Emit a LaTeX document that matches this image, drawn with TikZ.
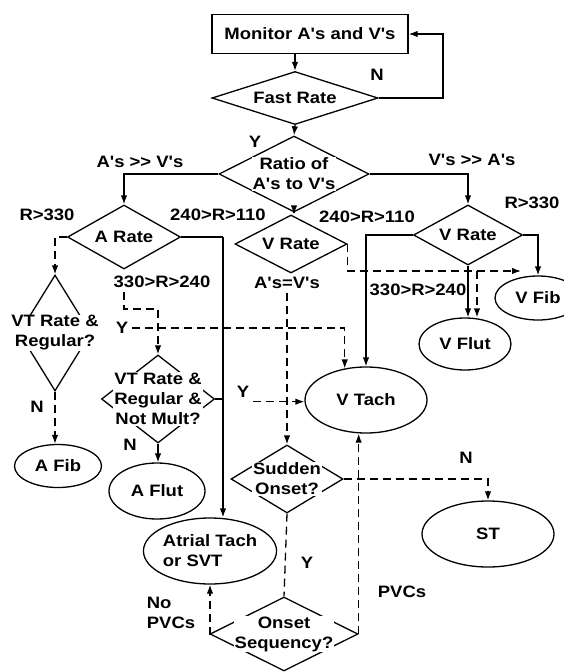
\documentclass[tikz,border=0pt]{standalone}
\usepackage{fontspec}
\newfontfamily\chartfont{Liberation Sans}[FakeStretch=1.12]
\usetikzlibrary{shapes.geometric,arrows.meta}
\begin{document}
\begin{tikzpicture}[x=1pt,y=-1pt,line width=1.3pt,font=\chartfont\bfseries\fontsize{16.5}{20}\selectfont]
\tikzstyle{box}=[draw,rectangle,minimum width=196pt,minimum height=39pt]
\tikzstyle{dia}=[draw,shape=diamond,inner sep=0pt]
\tikzstyle{oval}=[draw,shape=ellipse,inner sep=0pt,align=center]
\tikzstyle{txt}=[fill=white,inner sep=1pt,align=center]
\tikzstyle{arr}=[-{Latex[length=9pt,width=6.5pt]}]
\tikzstyle{dsh}=[dash pattern=on 8pt off 5pt]
\useasboundingbox (0,0) rectangle (563,672);

\node[box] at (310,34) (mon) {Monitor A's and V's};
\node[dia,minimum width=166pt,minimum height=53pt,label={[txt]center:Fast Rate}] at (295,98) (fast) {};
\node[dia,minimum width=150pt,minimum height=76pt,label={[txt]center:{Ratio of\\A's to V's}}] at (294,174) (ratio) {};
\node[dia,minimum width=113pt,minimum height=64pt,label={[txt]center:A Rate}] at (124,237) (arate) {};
\node[dia,minimum width=112pt,minimum height=58pt,label={[txt]center:V Rate}] at (291,244) (vratem) {};
\node[dia,minimum width=109pt,minimum height=60pt,label={[txt]center:V Rate}] at (468,235) (vrater) {};
\node[dia,minimum width=72pt,minimum height=116pt,label={[txt]center:{VT Rate \&\\Regular?}}] at (55,333) (vtr) {};
\node[dia,minimum width=113pt,minimum height=88pt,label={[txt]center:{VT Rate \&\\Regular \&\\Not Mult?}}] at (158,399) (vtm) {};
\node[dia,minimum width=112pt,minimum height=68pt,label={[txt]center:{Sudden\\Onset?}}] at (287,479) (sudden) {};
\node[dia,minimum width=148pt,minimum height=74pt,label={[txt]center:{Onset\\Sequency?}}] at (284,634) (osq) {};

\node[oval,minimum width=87pt,minimum height=43pt] at (58,466) (afib) {A Fib};
\node[oval,minimum width=96pt,minimum height=56pt] at (157,491) (aflut) {A Flut};
\node[oval,align=left,minimum width=130pt,minimum height=66pt] at (210,551) (atrial) {Atrial Tach\\or SVT};
\node[oval,minimum width=122pt,minimum height=66pt] at (366,400) (vtach) {V Tach};
\node[oval,minimum width=92pt,minimum height=52pt] at (465,344) (vflut) {V Flut};
\node[oval,minimum width=86pt,minimum height=44pt] at (538,298) (vfib) {V Fib};
\node[oval,minimum width=132pt,minimum height=66pt] at (488,534) (st) {ST};

\node at (377,75) (n1) {N};
\node at (255,142) (y1) {Y};
\node at (140,162) (l1) {A's >> V's};
\node at (472,160) (l2) {V's >> A's};
\node at (47,215) (l3) {R>330};
\node at (218,215) (l4) {240>R>110};
\node at (367,217) (l5) {240>R>110};
\node at (532,203) (l6) {R>330};
\node at (162,282) (l7) {330>R>240};
\node at (287,283) (l8) {A's=V's};
\node at (418,290) (l9) {330>R>240};
\node at (122,328) (y2) {Y};
\node at (37,407) (n2) {N};
\node at (243,392) (y3) {Y};
\node at (130,445) (n3) {N};
\node at (466,458) (n4) {N};
\node at (307,563) (y4) {Y};
\node[align=left] at (171,613) (l10) {No\\PVCs};
\node at (402,592) (l11) {PVCs};

\coordinate (loop) at (443,98);
\coordinate (ac) at (223,237);
\coordinate (vtmturn) at (158,309);
\coordinate (vsplit) at (477,271);
\coordinate (vfibend) at (521,271);

\draw[arr] (mon.south -| fast.north) -- (fast.north);
\draw[arr] (fast.east) -- (loop) |- (mon.east);
\draw[arr] (fast.south) -- (ratio.north);
\draw[arr] (ratio.west) -| (arate.north);
\draw[arr] (ratio.east) -| (vrater.north);
\draw[arr] (ratio.south) -- (ratio.south |- vratem.north);

\draw[arr,dsh] (arate.west) -| (vtr.north);
\draw (arate.east) -- (ac);
\draw[arr] (ac) -- (ac |- atrial.north);
\draw (vtm.east) -- (vtm.east -| ac);
\draw[arr,dsh] (l7.south -| arate.south) |- (vtmturn) -- (vtm.north);
\draw[arr,dsh] (y2.east) -| (vtach.124);
\draw[arr,dsh] (vtr.south) -- (vtr.south |- afib.north);
\draw[arr] (vtm.south) -- (vtm.south |- aflut.north);
\draw[arr,dsh] (y3.south east) -- (y3.south east -| vtach.west);

\draw[arr,dsh] (l8.south) -- (l8.south |- sudden.north);
\draw[dsh] (vratem.east) |- (vsplit);
\draw[arr,dsh] (vsplit) -- (vfibend);
\draw[arr,dsh] (vsplit) -- (vsplit |- vflut.north);

\draw[arr] (vrater.west) -| (vtach.north);
\draw[arr] (vrater.south) -- (vrater.south |- vflut.north);
\draw[arr] (vrater.east) -| (vfib.north);

\draw[arr,dsh] (sudden.east) -| (st.north);
\draw[dsh] (sudden.south) -- (osq.north);
\draw[arr,dsh] (osq.west) -| (atrial.south);
\draw[arr,dsh] (osq.east) -- (osq.east |- vtach.south);
\end{tikzpicture}
\end{document}
